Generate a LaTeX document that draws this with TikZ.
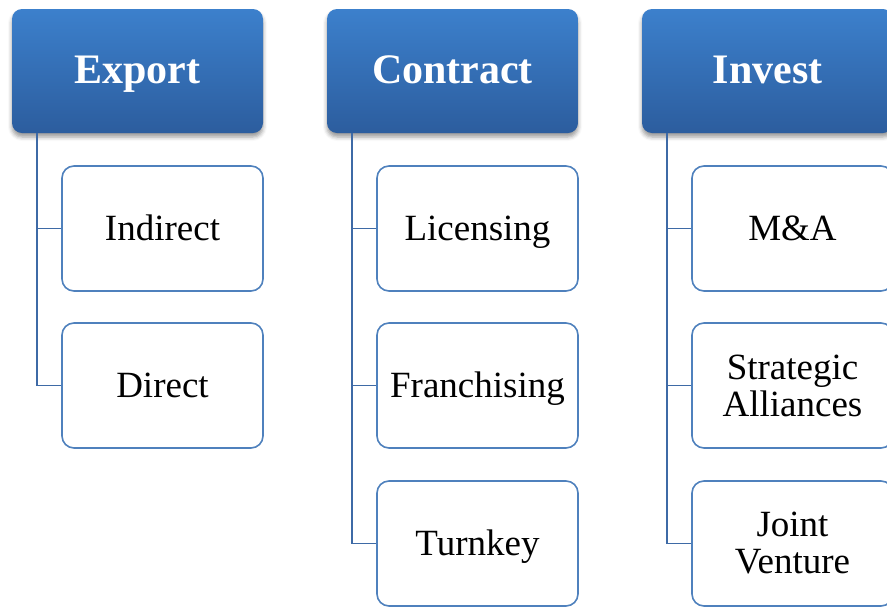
\documentclass[tikz,border=0pt]{standalone}
\usepackage{fontspec}
\setmainfont{Liberation Serif}
\usetikzlibrary{shadows.blur}
\definecolor{hdtop}{RGB}{60,128,204}
\definecolor{hdbot}{RGB}{44,93,158}
\definecolor{bxline}{RGB}{79,129,189}
\definecolor{cnline}{RGB}{62,106,166}
\tikzset{
  hdr/.style={rectangle, rounded corners=10pt, minimum width=251pt, minimum height=124pt,
    top color=hdtop, bottom color=hdbot, draw=none, text=white,
    text height=30pt, text depth=6pt,
    font=\fontsize{42}{50}\selectfont\bfseries,
    blur shadow={shadow xshift=0pt, shadow yshift=-4pt, shadow blur radius=4pt, shadow opacity=40}},
  child/.style={rectangle, rounded corners=12pt, minimum width=201pt, minimum height=125pt,
    draw=bxline, line width=1.6pt, fill=white, align=center,
    font=\fontsize{37}{37}\selectfont},
  one/.style={text height=28pt, text depth=5pt},
  conn/.style={draw=cnline, line width=1.9pt}
}
\begin{document}
\begin{tikzpicture}[x=1pt,y=-1pt]
\useasboundingbox (0,0) rectangle (887,606);
\clip (0,0) rectangle (887,606);
% headers
\node[hdr] (e) at (137.5,71) {Export};
\node[hdr] (c) at (452.5,71) {Contract};
\node[hdr] (v) at (767.5,71) {Invest};
% children
\node[child,one] (e1) at (162.5,228.5) {Indirect};
\node[child,one] (e2) at (162.5,385.5) {Direct};
\node[child,one] (c1) at (477.5,228.5) {Licensing};
\node[child,one] (c2) at (477.5,385.5) {Franchising};
\node[child,one] (c3) at (477.5,543.5) {Turnkey};
\node[child,one] (v1) at (792.5,228.5) {M\&A};
\node[child] (v2) at (792.5,385.5) {Strategic\\Alliances};
\node[child] (v3) at (792.5,543.5) {Joint\\Venture};
% connectors
\draw[conn] ([xshift=25pt]e.south west) |- (e1.west);
\draw[conn] ([xshift=25pt]e.south west) |- (e2.west);
\draw[conn] ([xshift=25pt]c.south west) |- (c1.west);
\draw[conn] ([xshift=25pt]c.south west) |- (c2.west);
\draw[conn] ([xshift=25pt]c.south west) |- (c3.west);
\draw[conn] ([xshift=25pt]v.south west) |- (v1.west);
\draw[conn] ([xshift=25pt]v.south west) |- (v2.west);
\draw[conn] ([xshift=25pt]v.south west) |- (v3.west);
\end{tikzpicture}
\end{document}
